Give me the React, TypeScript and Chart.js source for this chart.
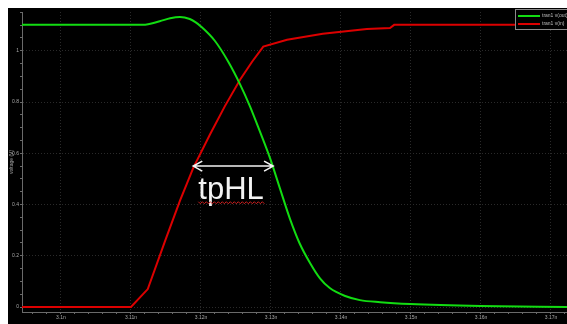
import { useEffect, useRef } from 'react';
import { Chart, registerables } from 'chart.js';

Chart.register(...registerables);

// ---- data (time in ns, voltage in V) ----
const outTime = [3.0944, 3.1117, 3.1141, 3.1156, 3.117, 3.1184, 3.1192, 3.1199, 3.122, 3.1239, 3.1256, 3.127, 3.1284, 3.1299, 3.1313, 3.1327, 3.1341, 3.1356, 3.137, 3.1384, 3.1406, 3.1427, 3.1456, 3.1499, 3.1599, 3.1723];
const outVolt = [1.101, 1.101, 1.115, 1.127, 1.132, 1.124, 1.112, 1.097, 1.038, 0.957, 0.868, 0.783, 0.686, 0.578, 0.461, 0.345, 0.248, 0.171, 0.112, 0.074, 0.043, 0.027, 0.019, 0.012, 0.004, 0.0];

const inTime = [3.0944, 3.11, 3.1124, 3.1149, 3.117, 3.1189, 3.1213, 3.1234, 3.1256, 3.1273, 3.1289, 3.1323, 3.1374, 3.1437, 3.147, 3.1476, 3.1723];
const inVolt = [0, 0, 0.07, 0.26, 0.415, 0.543, 0.674, 0.783, 0.888, 0.957, 1.016, 1.043, 1.066, 1.085, 1.089, 1.101, 1.101];

const seriesLabels = ['tran1 v(out)', 'tran1 v(in)'];
const seriesColors = ['#12dc12', '#dc0000'];

const xTickValues = [3.1, 3.11, 3.12, 3.13, 3.14, 3.15, 3.16, 3.17];
const xTickLabels = ['3.1n', '3.11n', '3.12n', '3.13n', '3.14n', '3.15n', '3.16n', '3.17n'];
const yTickValues = [0, 0.2, 0.4, 0.6, 0.8, 1];
const yTickLabels = ['0', '0.2', '0.4', '0.6', '0.8', '1'];

const xMin = 3.09443;
const xMax = 3.17229;
const yMin = -0.0194;
const yMax = 1.1512;

const yTitle = 'voltage (V)';

// annotation
const arrowStart = 3.1189;
const arrowEnd = 3.1303;
const arrowVolt = 0.55;
const noteText = 'tpHL';
const noteTime = 3.1243;
const noteVolt = 0.4225;
const squiggleVolt = 0.407;

const FONT = "'Liberation Sans', 'DejaVu Sans', sans-serif";

const isMajor = (list: number[], v: number) => list.some((m) => Math.abs(m - v) < 1e-7);

const overlay = {
  id: 'overlay',
  beforeDraw(chart: any) {
    const { ctx, width, height } = chart;
    ctx.save();
    ctx.fillStyle = '#000';
    ctx.fillRect(0, 0, width, height);
    ctx.restore();
  },
  afterDatasetsDraw(chart: any) {
    const { ctx } = chart;
    const xs = chart.scales.x;
    const ys = chart.scales.y;
    ctx.save();
    // double arrow
    const x1 = xs.getPixelForValue(arrowStart);
    const x2 = xs.getPixelForValue(arrowEnd);
    const ay = ys.getPixelForValue(arrowVolt);
    ctx.strokeStyle = '#f4f4f4';
    ctx.lineWidth = 1.6;
    ctx.beginPath();
    ctx.moveTo(x1, ay);
    ctx.lineTo(x2, ay);
    ctx.moveTo(x1 + 9, ay - 5);
    ctx.lineTo(x1, ay);
    ctx.lineTo(x1 + 9, ay + 5);
    ctx.moveTo(x2 - 9, ay - 5);
    ctx.lineTo(x2, ay);
    ctx.lineTo(x2 - 9, ay + 5);
    ctx.stroke();
    // text
    const tx = xs.getPixelForValue(noteTime);
    const ty = ys.getPixelForValue(noteVolt);
    ctx.fillStyle = '#f4f4f4';
    ctx.font = `31px ${FONT}`;
    ctx.textAlign = 'center';
    ctx.textBaseline = 'alphabetic';
    ctx.fillText(noteText, tx, ty);
    const w = ctx.measureText(noteText).width;
    // squiggle
    const sy = ys.getPixelForValue(squiggleVolt);
    ctx.strokeStyle = '#d02020';
    ctx.lineWidth = 1;
    ctx.beginPath();
    let up = true;
    for (let px = tx - w / 2; px <= tx + w / 2 + 2; px += 2) {
      const py = sy + (up ? -1 : 1);
      if (px === tx - w / 2) ctx.moveTo(px, py);
      else ctx.lineTo(px, py);
      up = !up;
    }
    ctx.stroke();
    // legend box
    const bx = 507.5;
    const by = 1.5;
    ctx.fillStyle = '#000';
    ctx.fillRect(bx, by, 60, 20);
    ctx.strokeStyle = '#8a8a8a';
    ctx.lineWidth = 1;
    ctx.strokeRect(bx, by, 60, 20);
    ctx.font = `5px ${FONT}`;
    ctx.textAlign = 'left';
    ctx.textBaseline = 'middle';
    seriesLabels.forEach((lab, i) => {
      const ly = 8 + i * 8;
      ctx.strokeStyle = seriesColors[i];
      ctx.lineWidth = 2;
      ctx.beginPath();
      ctx.moveTo(510, ly);
      ctx.lineTo(532, ly);
      ctx.stroke();
      ctx.fillStyle = '#bbbbbb';
      ctx.fillText(lab, 534, ly);
    });
    ctx.restore();
  },
};

export default function App() {
  const ref = useRef<HTMLCanvasElement | null>(null);
  useEffect(() => {
    if (!ref.current) return;
    const xMinor: number[] = [];
    for (let v = 3.096; v < xMax; v += 0.002) xMinor.push(Math.round(v * 1000) / 1000);
    const yMinor: number[] = [];
    for (let v = 0; v < yMax; v += 0.05) yMinor.push(Math.round(v * 100) / 100);

    const chart = new Chart(ref.current, {
      type: 'line',
      data: {
        datasets: [
          {
            label: seriesLabels[0],
            data: outTime.map((t, i) => ({ x: t, y: outVolt[i] })),
            borderColor: seriesColors[0],
            borderWidth: 2,
            pointRadius: 0,
            cubicInterpolationMode: 'monotone',
          },
          {
            label: seriesLabels[1],
            data: inTime.map((t, i) => ({ x: t, y: inVolt[i] })),
            borderColor: seriesColors[1],
            borderWidth: 2,
            pointRadius: 0,
            tension: 0,
          },
        ],
      },
      options: {
        animation: false,
        responsive: false,
        devicePixelRatio: 1,
        layout: { padding: 0 },
        plugins: { legend: { display: false }, tooltip: { enabled: false } },
        scales: {
          x: {
            type: 'linear',
            min: xMin,
            max: xMax,
            afterBuildTicks: (s: any) => {
              s.ticks = xMinor.map((v) => ({ value: v }));
            },
            afterFit: (s: any) => {
              s.height = 12;
            },
            ticks: {
              autoSkip: false,
              maxRotation: 0,
              padding: 1,
              color: '#a8a8a8',
              font: { size: 5, family: FONT },
              callback: (v: any) => {
                const i = xTickValues.findIndex((m) => Math.abs(m - v) < 1e-7);
                return i >= 0 ? xTickLabels[i] : '';
              },
            },
            grid: {
              color: (c: any) => (c.tick && isMajor(xTickValues, c.tick.value) ? '#2a2a2a' : 'rgba(0,0,0,0)'),
              tickColor: '#6a6a6a',
              tickLength: 2,
              lineWidth: 1,
            },
            border: { color: '#6a6a6a', width: 1, dash: [1, 2] },
          },
          y: {
            type: 'linear',
            min: yMin,
            max: yMax,
            afterBuildTicks: (s: any) => {
              s.ticks = yMinor.map((v) => ({ value: v }));
            },
            afterFit: (s: any) => {
              s.width = 14;
            },
            title: {
              display: true,
              text: yTitle,
              color: '#a8a8a8',
              font: { size: 5, family: FONT },
              padding: 1,
            },
            ticks: {
              autoSkip: false,
              padding: 1,
              color: '#a8a8a8',
              font: { size: 5, family: FONT },
              callback: (v: any) => {
                const i = yTickValues.findIndex((m) => Math.abs(m - v) < 1e-7);
                return i >= 0 ? yTickLabels[i] : '';
              },
            },
            grid: {
              color: (c: any) => (c.tick && isMajor(yTickValues, c.tick.value) ? '#2a2a2a' : 'rgba(0,0,0,0)'),
              tickColor: '#6a6a6a',
              tickLength: 2,
              lineWidth: 1,
            },
            border: { color: '#6a6a6a', width: 1, dash: [1, 2] },
          },
        },
      },
      plugins: [overlay],
    } as any);
    return () => chart.destroy();
  }, []);

  return (
    <div style={{ position: 'fixed', left: 8, top: 8, width: 559, height: 316, overflow: 'hidden' }}>
      <canvas ref={ref} width={559} height={316} style={{ display: 'block' }} />
    </div>
  );
}
